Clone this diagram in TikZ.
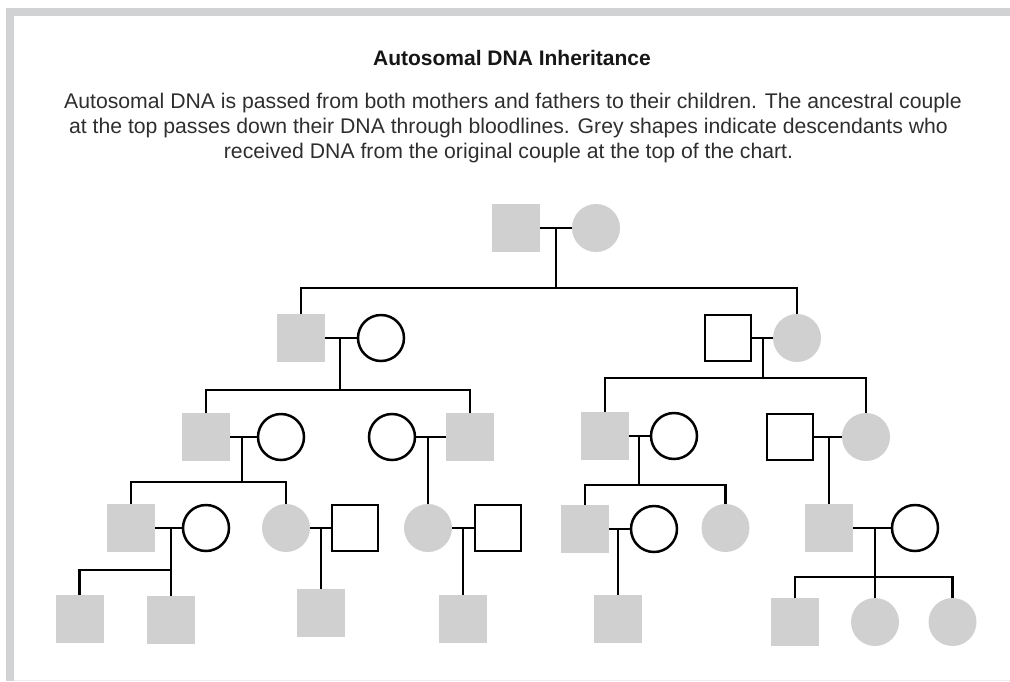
\documentclass[tikz,border=0pt]{standalone}
\usepackage{fontspec}
\setmainfont{Liberation Sans}
\definecolor{shade}{HTML}{D0D0D0}
\definecolor{frame}{HTML}{D1D2D4}
\definecolor{txt}{HTML}{2E2E2E}
\definecolor{ttl}{HTML}{161616}
\begin{document}
\begin{tikzpicture}[x=1pt,y=-1pt,
  conn/.style={line width=2.5pt, black},
  gsq/.style={rectangle, fill=shade, minimum size=48pt, inner sep=0pt, outer sep=0pt},
  gci/.style={circle, fill=shade, minimum size=48pt, inner sep=0pt, outer sep=0pt},
  osq/.style={rectangle, draw=black, line width=2.5pt, fill=white, minimum size=46pt, inner sep=0pt},
  oci/.style={circle, draw=black, line width=2.5pt, fill=white, minimum size=46pt, inner sep=0pt},
  bodytext/.style={anchor=base, text=txt, font=\fontsize{21.2}{25}\selectfont, inner sep=0pt},
  titletext/.style={anchor=base, text=ttl, font=\fontsize{21}{25}\selectfont\bfseries, inner sep=0pt}
]
\useasboundingbox (0,0) rectangle (1010,681);
% frame
\fill[frame] (6,8) rectangle (1010,16);
\fill[frame] (6,8) rectangle (14,681);
\draw[line width=1pt, black!7] (14,680.5) -- (1010,680.5);

% texts
\node[titletext] (title) at (512,65) {Autosomal DNA Inheritance};
\node[bodytext] (t1) at (513,108) {Autosomal DNA is passed from both mothers and fathers to their children. The ancestral couple};
\node[bodytext] (t2) at (508.5,133) {at the top passes down their DNA through bloodlines. Grey shapes indicate descendants who};
\node[bodytext] (t3) at (508.5,158) {received DNA from the original couple at the top of the chart.};

% generation 0
\node[gsq] (g0m) at (516,228) {};
\node[gci] (g0f) at (596,228) {};
% generation 1
\node[gsq] (g1a) at (301,338) {};
\node[oci] (g1b) at (381,338) {};
\node[osq] (g1c) at (728,338) {};
\node[gci] (g1d) at (797,338) {};
% generation 2
\node[gsq] (g2a) at (206,437) {};
\node[oci] (g2b) at (281,437) {};
\node[oci] (g2c) at (392,437) {};
\node[gsq] (g2d) at (470,437) {};
\node[gsq] (g2e) at (605,436) {};
\node[oci] (g2f) at (674,436) {};
\node[osq] (g2g) at (790,437) {};
\node[gci] (g2h) at (866,437) {};
% generation 3
\node[gsq] (g3a) at (131,528) {};
\node[oci] (g3b) at (206,528) {};
\node[gci] (g3c) at (286,528) {};
\node[osq] (g3d) at (355,528) {};
\node[gci] (g3e) at (428,528) {};
\node[osq] (g3f) at (498,528) {};
\node[gsq] (g3g) at (585,529) {};
\node[oci] (g3h) at (654,529) {};
\node[gci] (g3i) at (725.5,528) {};
\node[gsq] (g3j) at (829,528) {};
\node[oci] (g3k) at (915,528) {};
% generation 4
\node[gsq] (g4a) at (79.5,619) {};
\node[gsq] (g4b) at (171,620) {};
\node[gsq] (g4c) at (321,613) {};
\node[gsq] (g4d) at (463,619) {};
\node[gsq] (g4e) at (618,619) {};
\node[gsq] (g4f) at (795,622) {};
\node[gci] (g4g) at (875,622) {};
\node[gci] (g4h) at (952.5,622) {};

% couple points and sibship bars
\coordinate (c0) at (556,228);  \coordinate (b0) at (556,288);
\coordinate (c1) at (340,338);  \coordinate (b1) at (340,390);
\coordinate (c2) at (763,338);  \coordinate (b2) at (763,378);
\coordinate (c3) at (242,437);  \coordinate (b3) at (242,482);
\coordinate (c4) at (428,437);
\coordinate (c5) at (639,436);  \coordinate (b5) at (639,485);
\coordinate (c6) at (829,437);
\coordinate (c7) at (171,528);  \coordinate (b7) at (171,570);
\coordinate (c8) at (321,528);
\coordinate (c9) at (463,528);
\coordinate (c10) at (618,529);
\coordinate (c11) at (875,528); \coordinate (b11) at (875,577);

\begin{scope}[conn]
% marriage lines
\draw (g0m.east) -- (g0f.west);
\draw (g1a.east) -- (g1b.west);
\draw (g1c.east) -- (g1d.west);
\draw (g2a.east) -- (g2b.west);
\draw (g2c.east) -- (g2d.west);
\draw (g2e.east) -- (g2f.west);
\draw (g2g.east) -- (g2h.west);
\draw (g3a.east) -- (g3b.west);
\draw (g3c.east) -- (g3d.west);
\draw (g3e.east) -- (g3f.west);
\draw (g3g.east) -- (g3h.west);
\draw (g3j.east) -- (g3k.west);
% descent lines
\draw (c0) -- (b0);
\draw (g1a.north) |- (b0) -| (g1d.north);
\draw (c1) -- (b1);
\draw (g2a.north) |- (b1) -| (g2d.north);
\draw (c2) -- (b2);
\draw (g2e.north) |- (b2) -| (g2h.north);
\draw (c3) -- (b3);
\draw (g3a.north) |- (b3) -| (g3c.north);
\draw (c4) -- (g3e.north);
\draw (c5) -- (b5);
\draw (g3g.north) |- (b5) -| (g3i.north);
\draw (c6) -- (g3j.north);
\draw (c7) -- (g4b.north);
\draw (g4a.north) |- (b7);
\draw (c8) -- (g4c.north);
\draw (c9) -- (g4d.north);
\draw (c10) -- (g4e.north);
\draw (c11) -- (g4g.north);
\draw (g4f.north) |- (b11) -| (g4h.north);
\end{scope}
\end{tikzpicture}
\end{document}
